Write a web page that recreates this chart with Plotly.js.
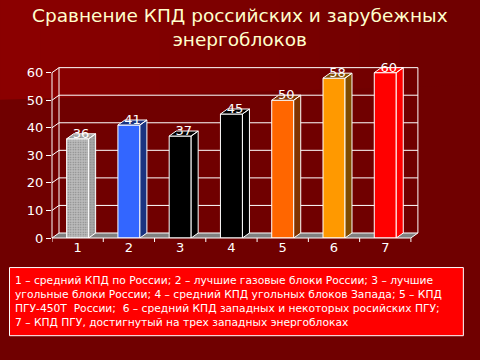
<!DOCTYPE html>
<html><head><meta charset="utf-8">
<script src="https://cdn.plot.ly/plotly-3.0.1.min.js"></script>
<style>html,body{margin:0;padding:0;background:#700000;}</style>
</head><body><div id="chart" style="width:480px;height:360px;"></div>
<script>
// ---- data ----
const categories = ['1','2','3','4','5','6','7'];
const values = [36, 41, 37, 45, 50, 58, 60];
const frontColors = ['#bcbcbc','#3366FF','#000000','#000000','#FF6600','#FF9900','#FF0000'];
const sideColors  = ['#a8a8a8','#1a3380','#000000','#000000','#803300','#804C00','#FF0000'];
const yTicks = [0, 10, 20, 30, 40, 50, 60];
const titleLines = ['Сравнение КПД российских и зарубежных', 'энергоблоков'];
const noteLines = [
  '1 – средний КПД по России; 2 – лучшие газовые блоки России; 3 – лучшие',
  'угольные блоки России; 4 – средний КПД угольных блоков Запада; 5 – КПД',
  'ПГУ-450Т\u00a0\u00a0России;\u00a0\u00a06 – средний КПД западных и некоторых росийских ПГУ;',
  '7 – КПД ПГУ, достигнутый на трех западных энергоблоках'
];

// ---- geometry (pixels / units) ----
const L = 52, BOT = 238;           // plot left, bottom in px
const UX = 51.29, UY = 2.75;       // px per data unit
const dx = 7 / UX, dy = 5 / UY;    // 3D depth offset
const hw = 11 / UX;                // bar half width
const n = categories.length;
const xs = categories.map(c => Number(c));
const xmin = 0.5, xmax = n + 0.5 + dx + 0.08;
const ymax = 60 + dy + 0.6;
const W = (xmax - xmin) * UX, H = ymax * UY;
const T = BOT - H, R = 480 - L - W;
const X = px => (px - L) / W;
const Y = py => (BOT - py) / H;

const shapes = [];
// background gradient band (top-left lighter)
const steps = 12;
for (let i = 0; i < steps; i++) {
  const x0 = i * 480 / steps, x1 = (i + 1) * 480 / steps;
  const yb0 = 100 - x0 * 15 / 480, yb1 = 100 - x1 * 15 / 480;
  const t = (i + 0.5) / steps;
  const r = Math.round(140 - (140 - 112) * Math.min(1, t * 1.15));
  shapes.push({type:'path', xref:'paper', yref:'paper', layer:'below', line:{width:0},
    fillcolor:`rgb(${r},0,0)`,
    path:`M${X(x0)},${Y(0)} L${X(x1+0.5)},${Y(0)} L${X(x1+0.5)},${Y(yb1)} L${X(x0)},${Y(yb0)} Z`});
}
// floor
shapes.push({type:'path', xref:'x', yref:'y', layer:'below', fillcolor:'#808080', line:{width:0},
  path:`M${xmin},0 L${n+0.5},0 L${n+0.5+dx},${dy} L${xmin+dx},${dy} Z`});
// back wall gridlines with left diagonals
yTicks.forEach(v => {
  shapes.push({type:'path', xref:'x', yref:'y', layer:'below', line:{color:'#ffffff', width:1},
    path:`M${xmin},${v} L${xmin+dx},${v+dy} L${n+0.5+dx},${v+dy}`});
});
// back wall verticals
[xmin + dx, n + 0.5 + dx].forEach(xv => {
  shapes.push({type:'line', xref:'x', yref:'y', layer:'below', line:{color:'#ffffff', width:1},
    x0:xv, x1:xv, y0:dy, y1:60 + dy});
});
// right floor diagonal
shapes.push({type:'line', xref:'x', yref:'y', layer:'below', line:{color:'#ffffff', width:1},
  x0:n+0.5, x1:n+0.5+dx, y0:0, y1:dy});
// front axes
shapes.push({type:'line', xref:'paper', yref:'y', line:{color:'#ffffff', width:1},
  x0:0, x1:0, y0:0, y1:60});
shapes.push({type:'line', xref:'x', yref:'paper', line:{color:'#ffffff', width:1},
  x0:xmin, x1:n+0.5, y0:0, y1:0});
// boundary ticks on x axis
for (let i = 0; i <= n; i++) {
  shapes.push({type:'line', xref:'x', yref:'paper', line:{color:'#ffffff', width:1},
    x0:xmin+i, x1:xmin+i, y0:0, y1:-4/H});
}
// note box
shapes.push({type:'rect', xref:'paper', yref:'paper', fillcolor:'#FF0000', line:{color:'#ffffff', width:1},
  x0:X(9.5), x1:X(463.5), y0:Y(267.5), y1:Y(335.5)});

const traces = [];
// front faces
traces.push({type:'bar', x:xs, y:values, width:2*hw, hoverinfo:'skip',
  marker:{color:frontColors, line:{color:'#ffffff', width:1},
    pattern:{shape:['.','','','','','',''], fillmode:'overlay', fgcolor:'#707070', size:2.5, solidity:0.25}}});
// side + top faces
xs.forEach((c, i) => {
  const v = values[i], a = c - hw, b = c + hw;
  const tr = {type:'scatter', mode:'lines', hoverinfo:'skip', cliponaxis:false,
    x:[b, b+dx, b+dx, b, b, null, a, b, b+dx, a+dx, a],
    y:[0, dy, v+dy, v, 0, null, v, v, v+dy, v+dy, v],
    fill:'toself', fillcolor:sideColors[i], line:{color:'#ffffff', width:1}};
  if (i === 0) tr.fillpattern = {shape:'.', fillmode:'overlay', bgcolor:sideColors[i], fgcolor:'#606060', size:2.5, solidity:0.25};
  traces.push(tr);
});
// value labels
traces.push({type:'scatter', mode:'text', hoverinfo:'skip', cliponaxis:false,
  x:xs.map(c => c + dx/2), y:values.map(v => v + dy*0.8), text:values.map(String),
  textposition:'middle center', textfont:{family:'DejaVu Sans', size:13, color:'#ffffff'}});

const layout = {
  width:480, height:360, showlegend:false,
  paper_bgcolor:'#700000', plot_bgcolor:'rgba(0,0,0,0)',
  margin:{l:L, r:R, t:T, b:360-BOT, pad:0},
  font:{family:'DejaVu Sans', color:'#ffffff'},
  xaxis:{range:[xmin, xmax], tickvals:xs, ticktext:categories, ticks:'', showgrid:false, zeroline:false,
    showline:false, tickfont:{size:13, color:'#ffffff'}, fixedrange:true},
  yaxis:{range:[0, ymax], tickvals:yTicks, ticks:'outside', ticklen:5, tickcolor:'#ffffff', tickwidth:1,
    showgrid:false, zeroline:false, showline:false, tickfont:{size:13, color:'#ffffff'}, fixedrange:true},
  shapes:shapes,
  annotations:[
    {xref:'paper', yref:'paper', x:X(240), y:Y(28), xanchor:'center', yanchor:'middle', showarrow:false,
     text:titleLines.join('<br>'), font:{family:'DejaVu Sans', size:18.5, color:'#FFFFCC'}},
    {xref:'paper', yref:'paper', x:X(13), y:Y(272), xanchor:'left', yanchor:'top', align:'left', showarrow:false,
     text:noteLines.join('<br>'), font:{family:'DejaVu Sans', size:10.7, color:'#ffffff'}}
  ]
};
Plotly.newPlot('chart', traces, layout, {displayModeBar:false, staticPlot:true});
</script></body></html>
